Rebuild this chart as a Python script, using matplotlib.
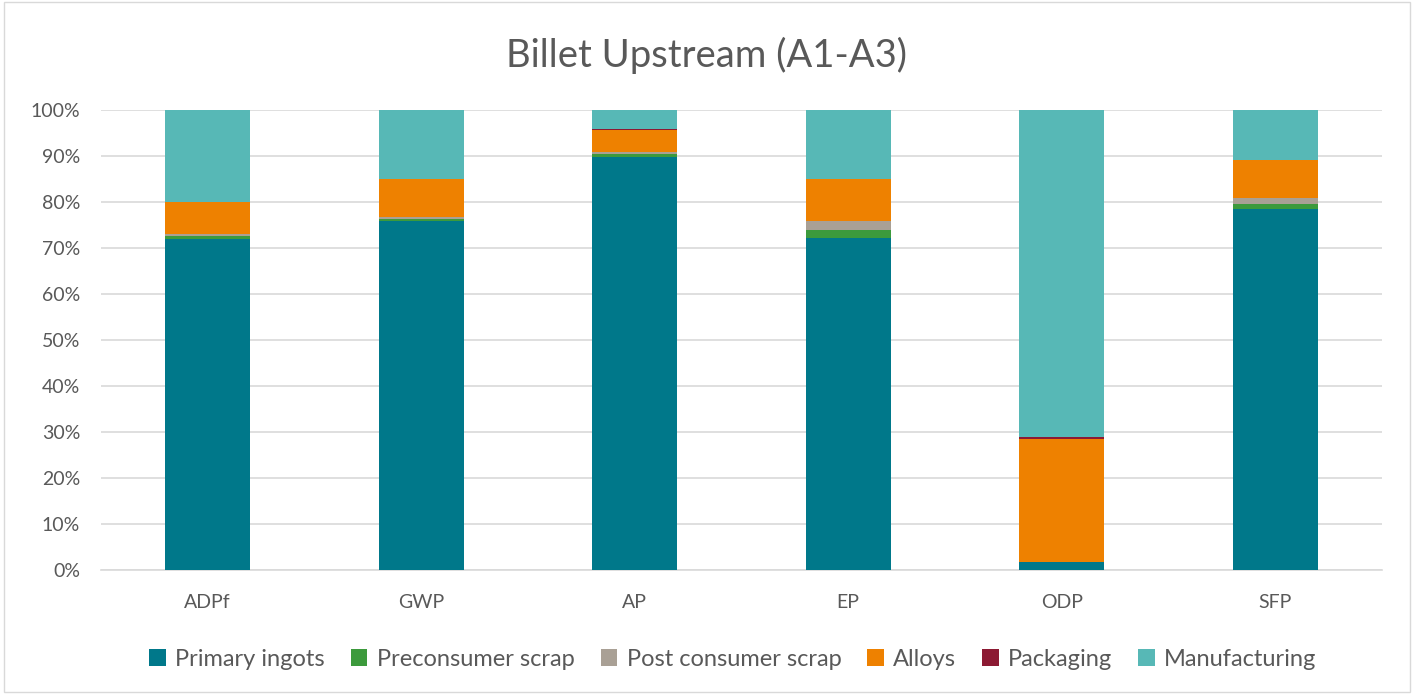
import matplotlib.pyplot as plt
import numpy as np

plt.rcParams['font.family'] = ['Lato', 'DejaVu Sans']

categories = ['ADPf', 'GWP', 'AP', 'EP', 'ODP', 'SFP']
series_names = ['Primary ingots', 'Preconsumer scrap', 'Post consumer scrap',
                'Alloys', 'Packaging', 'Manufacturing']
primary = [72.0, 75.9, 89.8, 72.2, 1.7, 78.5]
preconsumer = [0.6, 0.4, 0.6, 1.7, 0.05, 1.1]
postconsumer = [0.5, 0.4, 0.4, 2.0, 0.05, 1.3]
alloys = [7.0, 8.3, 4.8, 9.1, 26.7, 8.3]
packaging = [0.0, 0.0, 0.3, 0.0, 0.5, 0.0]
manufacturing = [19.9, 15.0, 4.1, 15.0, 71.0, 10.8]
colors = ['#00788A', '#3C9A3C', '#A9A095', '#EE8100', '#8C1A33', '#57B8B6']

fig = plt.figure(figsize=(14.14, 6.94), dpi=100)
ax = fig.add_axes([101 / 1414, 1 - 570 / 694, 1281 / 1414, 460 / 694])

x = np.arange(len(categories))
bottom = np.zeros(len(categories))
for name, vals, c in zip(series_names,
                         [primary, preconsumer, postconsumer, alloys, packaging, manufacturing],
                         colors):
    ax.bar(x, vals, width=0.4, bottom=bottom, color=c, label=name, zorder=3)
    bottom += np.array(vals)

ax.set_xlim(-0.5, len(categories) - 0.5)
ax.set_ylim(0, 100)
ax.set_yticks(np.arange(0, 101, 10))
ax.set_yticklabels([f'{v}%' for v in range(0, 101, 10)])
ax.set_xticks(x)
ax.set_xticklabels(categories)
ax.grid(axis='y', color='#D9D9D9', linewidth=1.2, zorder=0)
for s in ['top', 'right', 'left']:
    ax.spines[s].set_visible(False)
ax.spines['bottom'].set_color('#D9D9D9')
ax.spines['bottom'].set_linewidth(1.2)
ax.tick_params(axis='both', length=0, labelsize=14, colors='#595959')
ax.tick_params(axis='y', pad=15)
ax.tick_params(axis='x', pad=17)

fig.text(0.5, 1 - 55 / 694, 'Billet Upstream (A1-A3)', ha='center', va='center',
         fontsize=27.5, color='#595959')

handles, labels = ax.get_legend_handles_labels()
fig.legend(handles, labels, loc='center', bbox_to_anchor=(733 / 1414, 1 - 659 / 694), ncol=6,
           frameon=False, fontsize=17, labelcolor='#595959', handlelength=0.7,
           handleheight=0.7, handletextpad=0.4, columnspacing=1.1)

border = plt.Rectangle((0.003, 0.003), 0.994, 0.994, transform=fig.transFigure,
                       fill=False, edgecolor='#D9D9D9', linewidth=1)
fig.patches.append(border)

fig.savefig('out.png', dpi=100)
